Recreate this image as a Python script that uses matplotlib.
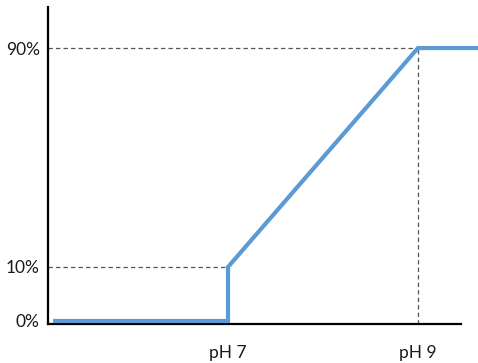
import matplotlib
matplotlib.use('Agg')
import matplotlib.pyplot as plt
import numpy as np

# schematic curve: share (%) vs pH
ph = [5.18, 7, 7, 9, 9.63]
share = [0, 0, 10, 90, 90]
ytick_vals = [0, 10, 90]
ytick_labels = ['0%', '10%', '90%']
xtick_vals = [7, 9]
xtick_labels = ['pH 7', 'pH 9']

blue = '#5B9BD5'


# the y axis is not linear in the drawing: 0-10% is stretched
def fwd(y):
    y = np.asarray(y, dtype=float)
    return np.where(y < 10, y * 5.4, 54 + (y - 10) * 2.7375)


def inv(v):
    v = np.asarray(v, dtype=float)
    return np.where(v < 54, v / 5.4, 10 + (v - 54) / 2.7375)


fig = plt.figure(figsize=(4.78, 3.63), dpi=100)
ax = fig.add_axes([48 / 478, 39 / 363, 413 / 478, 317 / 363])
ax.set_yscale('function', functions=(fwd, inv))

x0, x1 = 5.105, 9.453
ax.set_xlim(x0, x1)
ax.set_ylim(-0.56, 105)

# guide lines
dash = dict(color='#555555', lw=0.9, ls=(0, (3.5, 2.5)))
ax.plot([x0, ph[3]], [share[3], share[3]], **dash)
ax.plot([x0, ph[2]], [share[2], share[2]], **dash)
ax.plot([ph[3], ph[3]], [-0.56, share[3]], **dash)

ax.plot(ph, share, color=blue, lw=3, clip_on=False, solid_joinstyle='miter', zorder=3)

for s in ['top', 'right']:
    ax.spines[s].set_visible(False)
for s in ['left', 'bottom']:
    ax.spines[s].set_linewidth(1.6)

ax.set_yticks(ytick_vals)
ax.set_yticklabels(ytick_labels)
ax.set_xticks(xtick_vals)
ax.set_xticklabels(xtick_labels)
ax.yaxis.set_minor_locator(matplotlib.ticker.NullLocator())
ax.tick_params(axis='both', length=0, labelsize=12.5)
ax.tick_params(axis='y', pad=6)
ax.tick_params(axis='x', pad=15)
for lab in ax.get_xticklabels() + ax.get_yticklabels():
    lab.set_family('Lato')
    lab.set_color('#1a1a1a')

plt.savefig('out.png', dpi=100)
plt.close()
